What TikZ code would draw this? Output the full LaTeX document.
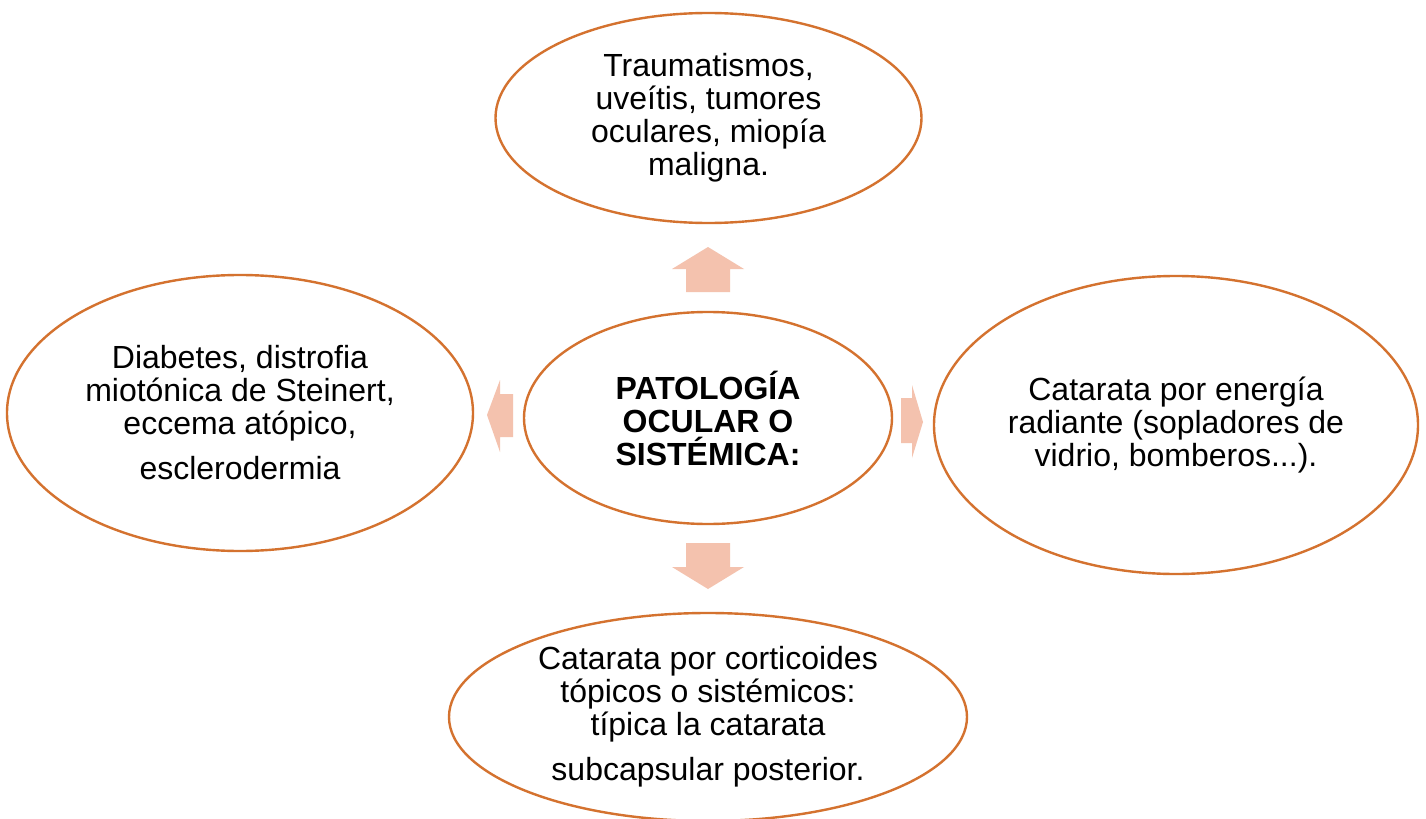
\documentclass[tikz,border=0pt]{standalone}
\usepackage{fontspec}
\setmainfont{Liberation Sans}
\usetikzlibrary{shapes.geometric}
\definecolor{edgeor}{HTML}{D4722F}
\definecolor{arrfill}{HTML}{F4C2AE}
\tikzset{
  bubble/.style={ellipse, draw=edgeor, line width=1.2pt, fill=white, inner sep=0pt,
    align=center, font=\fontsize{16}{16.5}\selectfont},
  blockarrow/.style={fill=arrfill, draw=none}
}
\begin{document}
\begin{tikzpicture}[x=0.5pt, y=-0.5pt]
\useasboundingbox (0,0) rectangle (1426,819);
\fill[white] (0,0) rectangle (1426,819);
\node[bubble, minimum width=213pt, minimum height=105pt] (top) at (708.5,118)
  {Traumatismos,\\uveítis, tumores\\oculares, miopía\\maligna.};
\node[bubble, minimum width=184pt, minimum height=106pt] (center) at (708,418)
  {\bfseries PATOLOGÍA\\\bfseries OCULAR O\\\bfseries SISTÉMICA:};
\node[bubble, minimum width=233pt, minimum height=138pt] (left) at (240,413)
  {Diabetes, distrofia\\miotónica de Steinert,\\eccema atópico,\\[6pt]esclerodermia};
\node[bubble, minimum width=242pt, minimum height=149pt] (right) at (1176,425)
  {Catarata por energía\\radiante (sopladores de\\vidrio, bomberos...).};
\node[bubble, minimum width=259pt, minimum height=104pt] (bottom) at (708,717)
  {Catarata por corticoides\\tópicos o sistémicos:\\típica la catarata\\[6pt]subcapsular posterior.};
% block arrows
\coordinate (upA) at (708,247);
\coordinate (dnA) at (708,589);
\coordinate (lfA) at (487,415);
\coordinate (rtA) at (923,422);
\fill[blockarrow] (686,292) -- (686,269) -- (672,269) -- (upA) -- (744,269) -- (730,269) -- (730,292) -- cycle;
\fill[blockarrow] (686,543) -- (730,543) -- (730,567) -- (744,567) -- (dnA) -- (672,567) -- (686,567) -- cycle;
\fill[blockarrow] (513,394) -- (500,394) -- (500,380) -- (lfA) -- (500,452) -- (500,437) -- (513,437) -- cycle;
\fill[blockarrow] (901,398) -- (912,398) -- (912,385) -- (rtA) -- (912,458) -- (912,443) -- (901,443) -- cycle;
\end{tikzpicture}
\end{document}
